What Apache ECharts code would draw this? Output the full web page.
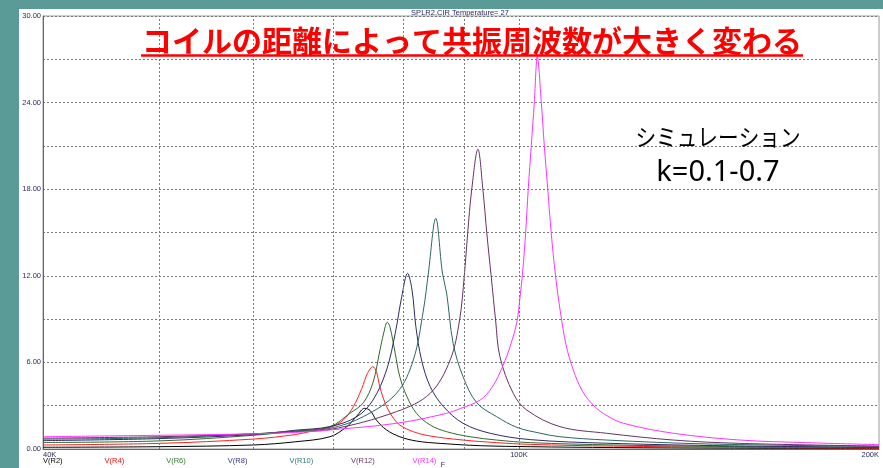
<!DOCTYPE html>
<html>
<head>
<meta charset="utf-8">
<script src="https://cdn.jsdelivr.net/npm/echarts@6/dist/echarts.min.js"></script>
<style>
  html, body { margin: 0; padding: 0; background: #5b9b97; }
  #chart { width: 883px; height: 468px; }
</style>
</head>
<body>
<div id="chart"></div>
<script>
// Voltage across each load resistor vs. frequency (kHz), coupled-coil sweep
const seriesNames = ['V(R2)', 'V(R4)', 'V(R6)', 'V(R8)', 'V(R10)', 'V(R12)', 'V(R14)'];
const lineColors  = ['#000000', '#ff2020', '#2f6a2f', '#2c2c66', '#2d6666', '#663366', '#ff33ff'];
const labelColors = ['#000000', '#ff0000', '#2f7a2f', '#333380', '#2f7a7a', '#663366', '#ff33ff'];

const freqR2 = [40, 50, 60, 65, 69.5, 71.8, 73.2, 74.3, 75.1, 76.0, 77.5, 79.5, 82.1, 85.9, 92.8, 102.2, 120, 150, 200];
const voltR2 = [0.12, 0.16, 0.28, 0.5, 0.85, 1.55, 2.29, 2.82, 2.66, 2.0, 1.32, 0.85, 0.55, 0.39, 0.23, 0.16, 0.1, 0.06, 0.04];

const freqR4 = [40, 50, 60, 65, 67.2, 69.5, 71.3, 72.7, 73.9, 74.7, 75.5, 76.0, 76.5, 77.3, 78.3, 79.5, 81.6, 84.3, 89.8, 95.8, 102.2, 120, 150, 200];
const voltR4 = [0.28, 0.39, 0.69, 1.0, 1.25, 1.5, 2.0, 2.93, 4.2, 5.24, 5.70, 5.36, 4.32, 3.16, 2.29, 1.66, 1.2, 0.9, 0.62, 0.44, 0.32, 0.2, 0.12, 0.06];

const freqR6 = [40, 50, 60, 65, 69.5, 72.2, 74.1, 75.5, 76.5, 77.3, 77.6, 78.0, 78.8, 79.5, 80.6, 82.1, 84.3, 87.0, 91.0, 95.8, 102.2, 120, 150, 200];
const voltR6 = [0.45, 0.56, 0.95, 1.25, 1.55, 2.47, 3.2, 4.6, 6.8, 8.48, 8.78, 8.48, 6.63, 5.01, 3.63, 2.47, 1.66, 1.2, 0.85, 0.62, 0.44, 0.28, 0.17, 0.1];

const freqR8 = [40, 50, 60, 65, 69.5, 73.2, 75.5, 77.5, 78.8, 79.8, 80.7, 81.4, 82.0, 82.9, 84.3, 86.5, 89.8, 94.6, 102.2, 118.4, 150, 200];
const voltR8 = [0.58, 0.72, 1.0, 1.3, 1.55, 2.24, 3.39, 5.47, 8.01, 10.55, 12.17, 11.0, 8.48, 6.17, 4.32, 2.93, 1.78, 1.09, 0.65, 0.4, 0.22, 0.12];

const freqR10 = [40, 50, 60, 65, 69.5, 74.1, 79.0, 81.6, 83.2, 84.0, 85.2, 86.3, 87.0, 88.1, 89.8, 92.2, 95.8, 99.6, 104.1, 108.2, 118.4, 143.6, 200];
const voltR10 = [0.68, 0.78, 1.05, 1.25, 1.43, 2.24, 3.86, 6.17, 9.63, 12.2, 15.98, 12.2, 10.8, 7.32, 5.01, 3.2, 2.24, 1.5, 1.1, 0.85, 0.62, 0.35, 0.18];

const freqR12 = [40, 50, 60, 65, 69.5, 79.0, 84.3, 87.6, 89.2, 90.0, 90.6, 91.3, 92.4, 93.3, 94.0, 94.8, 95.6, 96.4, 98.9, 101.5, 108.2, 118.4, 134.6, 153.1, 200];
const voltR12 = [0.75, 0.85, 1.05, 1.2, 1.35, 2.59, 3.86, 6.17, 8.94, 11.94, 14.95, 17.95, 20.77, 17.95, 14.95, 11.94, 8.94, 6.4, 3.86, 2.7, 1.55, 1.09, 0.62, 0.39, 0.2];

const freqR14 = [40, 50, 60, 65, 69.5, 79.0, 87.0, 89.3, 92.8, 95.0, 97.0, 98.4, 99.6, 100.2, 100.7, 101.3, 101.8, 102.4, 103.0, 103.6, 104.4, 105.0, 105.7, 106.4, 107.3, 108.3, 109.5, 111.0, 113.0, 115.5, 118.5, 122.3, 134.6, 153.1, 174.0, 200];
const voltR14 = [0.85, 0.95, 1.05, 1.15, 1.32, 1.78, 2.47, 2.8, 3.39, 4.3, 5.8, 7.2, 8.8, 10.5, 12.2, 15.0, 18.0, 21.0, 24.0, 27.19, 24.0, 21.0, 18.0, 15.0, 12.0, 9.5, 7.2, 5.5, 4.0, 3.0, 2.3, 1.78, 1.09, 0.62, 0.44, 0.3];

const gridFreqs = [50, 60, 70, 80, 90, 100];   // dotted vertical grid (kHz)
const freqLabelValues = [40, 100, 200];

const freqs = [freqR2, freqR4, freqR6, freqR8, freqR10, freqR12, freqR14];
const volts = [voltR2, voltR4, voltR6, voltR8, voltR10, voltR12, voltR14];

const headline = 'コイルの距離によって共振周波数が大きく変わる';
const noteLine1 = 'シミュレーション';
const noteLine2 = 'k=0.1-0.7';
const plotTitle = 'SPLR2.CIR Temperature= 27';

const axisFont = { fontFamily: 'Liberation Sans, Arial, sans-serif', fontSize: 7.5, color: '#2a2a5a' };
const dotted = { color: '#7a7a7a', type: [2, 2], width: 1 };

const series = seriesNames.map((name, i) => ({
  name,
  type: 'line',
  data: freqs[i].map((f, j) => [f, volts[i][j]]),
  showSymbol: false,
  smooth: 0.35,
  lineStyle: { color: lineColors[i], width: 1 },
  itemStyle: { color: lineColors[i] },
  z: 3,
  animation: false
}));

// vertical grid lines on the log frequency axis
series.push({
  type: 'line',
  data: [],
  silent: true,
  z: 1,
  markLine: {
    silent: true,
    symbol: 'none',
    label: { show: false },
    lineStyle: dotted,
    animation: false,
    data: gridFreqs.map(f => ({ xAxis: f }))
  }
});

const legendTexts = seriesNames.map((name, i) => ({
  type: 'text',
  left: 43 + i * 61.6,
  top: 457,
  style: { text: name, fill: labelColors[i], font: '7.5px "Liberation Sans", Arial, sans-serif' }
}));

const option = {
  backgroundColor: '#5b9b97',
  animation: false,
  grid: { left: 43, top: 16, right: 4, bottom: 19, show: true, borderColor: '#9a9a9a', borderWidth: 1, backgroundColor: 'transparent' },
  xAxis: {
    type: 'log',
    logBase: 10,
    min: 40,
    max: 200,
    axisLine: { show: true, lineStyle: { color: '#666', width: 1 } },
    axisTick: { show: false },
    splitLine: { show: false },
    axisLabel: Object.assign({
      margin: 2,
      alignMinLabel: 'left',
      alignMaxLabel: 'right',
      formatter: v => {
        const r = Math.round(v);
        return freqLabelValues.indexOf(r) >= 0 ? r + 'K' : '';
      }
    }, axisFont)
  },
  yAxis: {
    type: 'value',
    min: 0,
    max: 30,
    interval: 3,
    axisLine: { show: true, lineStyle: { color: '#666', width: 1 } },
    axisTick: { show: false },
    splitLine: { show: true, lineStyle: dotted },
    axisLabel: Object.assign({
      margin: 2,
      formatter: v => (Math.round(v) % 6 === 0 ? v.toFixed(2) : '')
    }, axisFont)
  },
  series,
  graphic: [
    { type: 'rect', left: 19, top: 9, z: -100, shape: { width: 864, height: 459 }, style: { fill: '#ffffff' } },
    { type: 'text', x: 460, y: 13, style: { text: plotTitle, fill: '#2a2a5a', font: '7.5px "Liberation Sans", Arial, sans-serif', align: 'center', verticalAlign: 'middle' } },
    { type: 'text', x: 472, y: 41, z: 10, style: { text: headline, fill: '#ff0000', font: 'bold 30px "Noto Sans CJK JP", sans-serif', align: 'center', verticalAlign: 'middle' } },
    { type: 'line', z: 10, shape: { x1: 141, y1: 55.5, x2: 803, y2: 55.5 }, style: { stroke: '#ff0000', lineWidth: 2.5 } },
    { type: 'text', x: 718, y: 137, scaleX: 0.86, z: 10, style: { text: noteLine1, fill: '#000', font: '24px "Noto Sans CJK JP", sans-serif', align: 'center', verticalAlign: 'middle' } },
    { type: 'text', x: 718, y: 173, z: 10, style: { text: noteLine2, fill: '#000', font: '29px "Noto Sans", sans-serif', align: 'center', verticalAlign: 'middle' } },
    { type: 'text', x: 443, y: 465, style: { text: 'F', fill: '#2a2a5a', font: '7px "Liberation Sans", Arial, sans-serif', align: 'center', verticalAlign: 'middle' } }
  ].concat(legendTexts)
};

const chart = echarts.init(document.getElementById('chart'), null, { renderer: 'canvas' });
chart.setOption(option);
</script>
</body>
</html>
